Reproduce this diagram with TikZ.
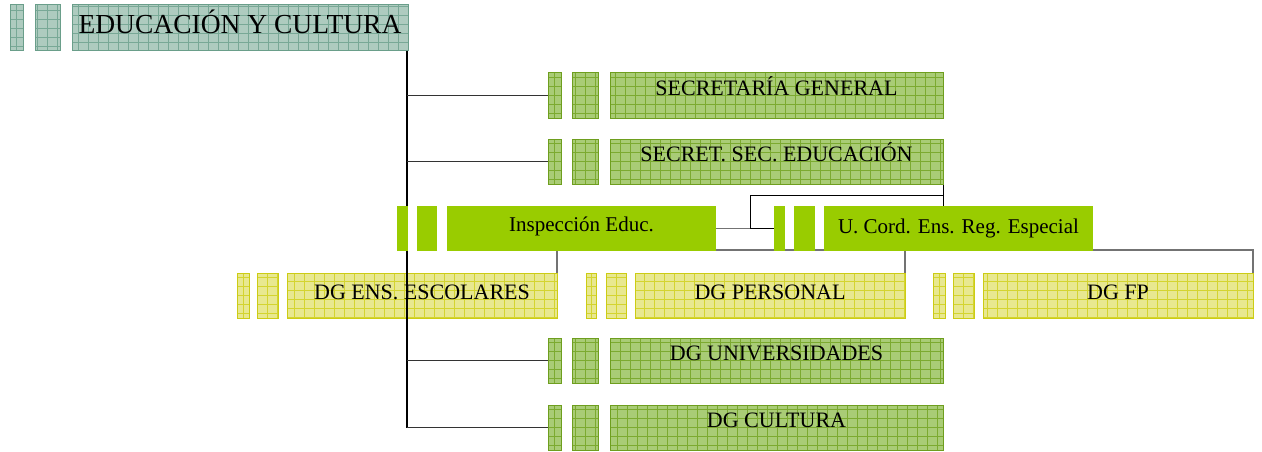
\documentclass[tikz,border=0pt]{standalone}
\usepackage{fontspec}
\setmainfont{Liberation Serif}
\usetikzlibrary{calc}
\definecolor{tealfill}{HTML}{AECBBF}
\definecolor{tealline}{HTML}{78A896}
\definecolor{tealedge}{HTML}{6A9E8A}
\definecolor{grnfill}{HTML}{A9CC76}
\definecolor{grnline}{HTML}{7CAA30}
\definecolor{grnedge}{HTML}{6E9E1E}
\definecolor{yelfill}{HTML}{E8E890}
\definecolor{yelline}{HTML}{D4D430}
\definecolor{yeledge}{HTML}{CCCC14}
\definecolor{solidgrn}{HTML}{99CC00}
\pgfdeclarelayer{back}\pgfdeclarelayer{mid}\pgfdeclarelayer{front}
\pgfsetlayers{back,main,mid,front}
\tikzset{
  box/.style={rectangle, inner sep=0pt, outer sep=0pt, anchor=north west, line width=1pt,
    text height=0pt, text depth=0pt, text=black, font=\fontsize{22}{24}\selectfont},
  tfont/.style={font=\fontsize{27.5}{30}\selectfont},
  mfont/.style={font=\fontsize{21}{23}\selectfont},
  tealgrid/.style={draw=tealline, line width=0.6pt, xstep=10pt, ystep=9pt},
  grngrid/.style={draw=grnline, line width=0.6pt, xstep=10pt, ystep=9pt},
  yelgrid/.style={draw=yelline, line width=0.6pt, xstep=10pt, ystep=9pt},
  tealbox/.style={box, fill=tealfill, draw=tealedge,
    path picture={\draw[tealgrid] (path picture bounding box.south west) grid (path picture bounding box.north east);}},
  grnbox/.style={box, fill=grnfill, draw=grnedge,
    path picture={\draw[grngrid] (path picture bounding box.south west) grid (path picture bounding box.north east);}},
  yelbox/.style={box, fill=yelfill, draw=yeledge,
    path picture={\draw[yelgrid] (path picture bounding box.south west) grid (path picture bounding box.north east);}},
  solidbox/.style={box, fill=solidgrn, draw=none, mfont},
  trunkline/.style={draw=black, line width=2pt},
  branchline/.style={draw=black!80, line width=0.9pt},
  gline/.style={draw=black!55, line width=1.3pt},
  bline/.style={draw=black, line width=1pt}
}
\newcommand\bx[7]{%
  \node[#2, minimum width={(#5-#3)*1pt}, minimum height={(#6-#4)*1pt}] (#1) at (#3,#4) {#7};%
}
\begin{document}
\begin{tikzpicture}[x=1pt,y=-1pt]
\useasboundingbox (0,0) rectangle (1262,452);
% title row
\bx{t1}{tealbox}{10}{5}{23}{51}{}
\bx{t2}{tealbox}{35}{5}{60}{51}{}
\bx{t3}{tealbox,tfont,text height=11pt}{72}{5}{408}{51}{EDUCACIÓN Y CULTURA}
% green rows
\bx{sg1}{grnbox}{548}{73}{561}{118}{}
\bx{sg2}{grnbox}{572}{73}{598}{118}{}
\bx{sg}{grnbox}{610}{73}{943}{118}{SECRETARÍA GENERAL}
\bx{se1}{grnbox}{548}{139}{561}{184}{}
\bx{se2}{grnbox}{572}{139}{598}{184}{}
\bx{se}{grnbox}{610}{139}{943}{184}{SECRET. SEC. EDUCACIÓN}
\bx{du1}{grnbox}{548}{338}{561}{383}{}
\bx{du2}{grnbox}{572}{338}{598}{383}{}
\bx{du}{grnbox}{610}{338}{943}{383}{DG UNIVERSIDADES}
\bx{dc1}{grnbox}{548}{405}{561}{450}{}
\bx{dc2}{grnbox}{572}{405}{598}{450}{}
\bx{dc}{grnbox}{610}{405}{943}{450}{DG CULTURA}
% yellow row
\bx{es1}{yelbox}{237}{273}{249}{318}{}
\bx{es2}{yelbox}{257}{273}{278}{318}{}
\bx{es}{yelbox,text height=7pt}{287}{273}{557}{318}{DG ENS. ESCOLARES}
\bx{pe1}{yelbox}{586}{273}{596}{318}{}
\bx{pe2}{yelbox}{606}{273}{626}{318}{}
\bx{pe}{yelbox,text height=8pt}{635}{273}{905}{318}{DG PERSONAL}
\bx{fp1}{yelbox}{933}{273}{945}{318}{}
\bx{fp2}{yelbox}{953}{273}{974}{318}{}
\bx{fp}{yelbox,text height=8pt}{983}{273}{1253}{318}{DG FP}
% solid row
\begin{pgfonlayer}{front}
\bx{ie1}{solidbox}{397}{206}{408}{251}{}
\bx{ie2}{solidbox}{417}{206}{437}{251}{}
\bx{ie}{solidbox,text height=5pt}{447}{206}{716}{251}{Inspección Educ.}
\bx{uc1}{solidbox}{774}{206}{785}{251}{}
\bx{uc2}{solidbox}{794}{206}{815}{251}{}
\bx{uc}{solidbox,text height=9pt}{824}{206}{1093}{251}{U. Cord. Ens. Reg. Especial}
\end{pgfonlayer}
% trunk and branches
\begin{pgfonlayer}{mid}
\coordinate (tr) at ([xshift=-1pt]t3.south east);
\draw[trunkline] (tr) -- (tr |- dc1.west);
\foreach \n in {sg1,se1,du1,dc1} \draw[branchline] (tr |- \n.west) -- (\n.west);
\end{pgfonlayer}
% connectors behind boxes
\begin{pgfonlayer}{back}
\draw[gline] (ie.east) -- (uc1.west);
\draw[gline] ([yshift=1pt]ie.south east) -| (fp.north east);
\draw[gline] (es.north east) -- (es.north east |- ie.south);
\draw[gline] (pe.north east) -- (pe.north east |- uc.south);
\coordinate (j1) at (750,195);
\draw[bline] (se.south east) -- (se.south east |- uc.north);
\draw[bline] (se.south east |- j1) -- (j1) -- (j1 |- uc1.west) -- (uc1.west);
\end{pgfonlayer}
\end{tikzpicture}
\end{document}
